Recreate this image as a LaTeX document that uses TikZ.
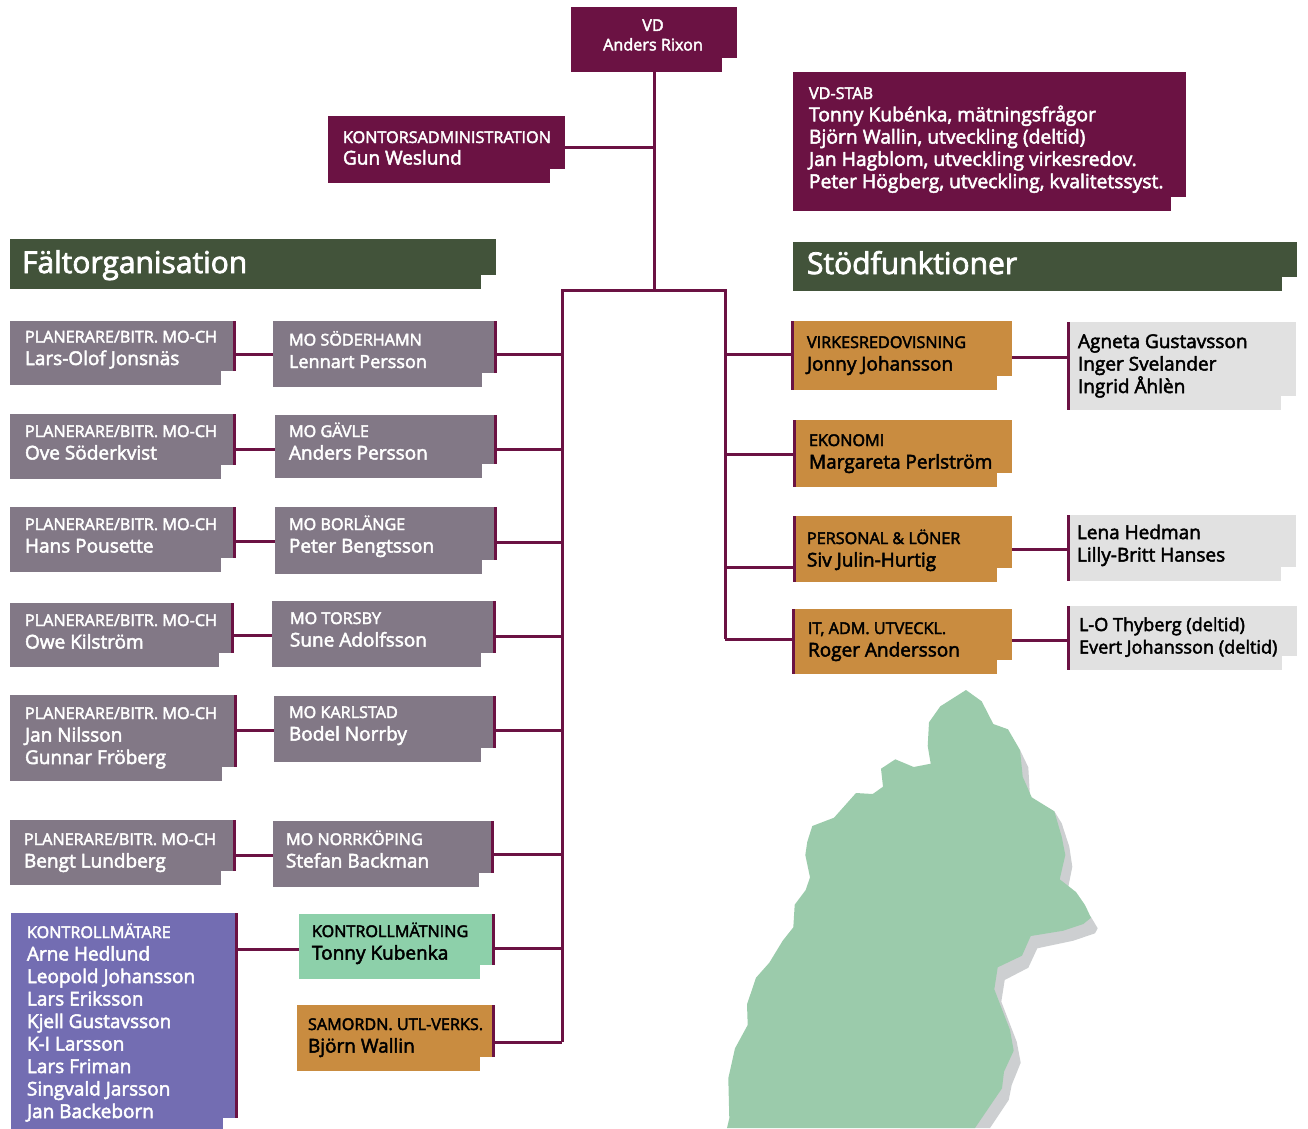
\documentclass[tikz,border=0pt]{standalone}
\usepackage{fontspec}
\setmainfont[FakeBold=2.6]{Open Sans}
\definecolor{plum}{HTML}{6B1243}
\definecolor{mauve}{HTML}{827886}
\definecolor{forest}{HTML}{42533A}
\definecolor{ochre}{HTML}{C98C40}
\definecolor{pale}{HTML}{E1E1E1}
\definecolor{violet}{HTML}{736DB2}
\definecolor{mint}{HTML}{8DD0AA}
\definecolor{land}{HTML}{9BCBAB}
\definecolor{landshadow}{HTML}{CDCFD1}
\tikzset{
  boxbase/.style={rectangle,inner sep=0pt,outer sep=0pt,anchor=north west},
  txt/.style={inner sep=0pt,outer sep=0pt,anchor=base west,align=left},
  wire/.style={draw=plum,line width=3pt},
}
\newcommand{\capf}{\fontsize{16.2}{20}\selectfont}
\newcommand{\namef}{\fontsize{19}{22}\selectfont}
\newcommand{\stabf}{\fontsize{19.3}{22}\selectfont}
\newcommand{\smallf}{\fontsize{18.1}{22}\selectfont}
\newcommand{\headf}{\fontsize{30}{34}\selectfont}
\newcommand{\Ln}[1]{\hbox{#1}}
% name x1 y1 x2 y2 fill barside(r/l/n) 
\newcommand{\orgbox}[7]{%
  \pgfmathsetmacro{\bw}{#4-#2}\pgfmathsetmacro{\bh}{#5-#3}%
  \node[boxbase,fill=#6,minimum width=\bw pt,minimum height=\bh pt] (#1) at (#2,#3) {};%
  \fill[white] (#4-15,#5-14.5) rectangle (#4+0.5,#5+0.5);%
  \if#7r\fill[plum] (#4-3,#3) rectangle (#4,#5-14.5);\fi%
  \if#7l\fill[plum] (#2,#3) rectangle (#2+3,#5);\fi%
}
\newcommand{\hwire}[3]{\draw[wire] (#1 |- 0,#3) -- (#2 |- 0,#3);}
\newcommand{\tblock}[5]{\node[txt,text=#5] (#1) at (#2,#3) {\vtop{\baselineskip=22.5pt #4}};}
\begin{document}
\begin{tikzpicture}[x=1pt,y=-1pt]
\useasboundingbox (0,0) rectangle (1308,1128);
\clip (0,0) rectangle (1308,1128);
% map
\fill[landshadow] (1020,750) -- (1028.3,767.3) -- (1030,797) -- (1033,800) -- (1054.3,811.3) -- (1061.7,823.3) -- (1069.3,846.7) -- (1072.3,866.7) -- (1068.3,886.7) -- (1060,890) -- (1091,917) -- (1097.7,928.3) -- (1095,933.3) -- (1073.3,940.7) -- (1037.3,948.3) -- (1028.3,967.7) -- (1004.7,980) -- (1001.3,1001.7) -- (1016.7,1041.7) -- (1020.7,1062.7) -- (1011.7,1085) -- (1008.7,1100) -- (990,1128) -- (900,1128) -- (900,800) -- cycle;
\fill[land] (966,690) -- (981.7,701.3) -- (993.3,724) -- (1008,729.3) -- (1020,750) -- (1022.7,776.7) -- (1031.7,797.3) -- (1054.3,811.3) -- (1061.7,836.7) -- (1065.3,855) -- (1059.7,879.3) -- (1076,892) -- (1085,905) -- (1091,917.7) -- (1083.3,924) -- (1063.3,930.7) -- (1030.7,936) -- (1022,955.7) -- (997.7,967.3) -- (994.3,989.3) -- (1010,1030) -- (1013.7,1050.7) -- (1004,1071.7) -- (1002,1088.3) -- (975,1128) -- (727,1128) -- (729.3,1118.3) -- (728.3,1078.3) -- (735,1048.3) -- (747.7,1025) -- (747,1004.3) -- (756,977.7) -- (769.3,962.7) -- (782.7,940.7) -- (793.3,927.3) -- (794.7,904.7) -- (805.7,890) -- (810,877.3) -- (805.3,855) -- (807.3,841.7) -- (812.3,826) -- (834,817.7) -- (856,793) -- (872.7,794) -- (883,786.7) -- (881,768.7) -- (895.3,759.3) -- (913.7,767) -- (930.7,763.7) -- (927.7,746) -- (929,722.3) -- (940.3,706.3) -- cycle;
% boxes
\orgbox{vd}{571}{7}{737}{72}{plum}{n}
\orgbox{kont}{328}{116}{565}{183}{plum}{n}
\orgbox{stab}{793}{72}{1186}{211}{plum}{n}
\orgbox{falt}{10}{239}{496}{289}{forest}{n}
\orgbox{stod}{793}{242}{1297}{291}{forest}{n}
\orgbox{p1}{10}{321}{236}{385}{mauve}{r}
\orgbox{m1}{273}{321}{497}{387}{mauve}{r}
\orgbox{p2}{10}{414}{236}{479}{mauve}{r}
\orgbox{m2}{275}{415}{497}{478}{mauve}{r}
\orgbox{p3}{10}{507}{236}{572}{mauve}{r}
\orgbox{m3}{275}{507}{497}{574}{mauve}{r}
\orgbox{p4}{10}{603}{234}{667}{mauve}{r}
\orgbox{m4}{272}{601}{496}{667}{mauve}{r}
\orgbox{p5}{10}{695}{237}{781}{mauve}{r}
\orgbox{m5}{274}{696}{496}{762}{mauve}{r}
\orgbox{p6}{10}{820}{236}{885}{mauve}{r}
\orgbox{m6}{273}{821}{494}{887}{mauve}{r}
\orgbox{kmt}{11}{913}{238}{1132}{violet}{n}
\fill[plum] (235,913) rectangle (238,1118);
\fill[white] (224,1118) rectangle (238.5,1132);
\orgbox{km}{299}{914}{495}{979}{mint}{r}
\orgbox{sam}{297}{1005}{495}{1071}{ochre}{r}
\orgbox{vir}{791}{321}{1012}{390}{ochre}{l}
\orgbox{eko}{793}{420}{1012}{487}{ochre}{l}
\orgbox{per}{793}{516}{1012}{582}{ochre}{l}
\orgbox{it}{792}{609}{1012}{674}{ochre}{l}
\orgbox{g1}{1067}{322}{1296}{410}{pale}{l}
\orgbox{g2}{1067}{515}{1296}{581}{pale}{l}
\orgbox{g3}{1067}{606}{1297}{670}{pale}{l}
% trunk
\coordinate (top) at (654.5,72);
\coordinate (junc) at (654.5,290);
\coordinate (lt) at (562,290);
\coordinate (lb) at (562,1042);
\coordinate (rt) at (725,290);
\coordinate (rb) at (725,639);
\draw[wire] (vd.south -| top) -- (junc);
\draw[wire,line join=miter] (lb) -- (lt) -- (rt) -- (rb);
\hwire{kont.east}{top}{147}
\hwire{p1.east}{m1.west}{354}
\hwire{p2.east}{m2.west}{449}
\hwire{p3.east}{m3.west}{541}
\hwire{p4.east}{m4.west}{635}
\hwire{p5.east}{m5.west}{730}
\hwire{p6.east}{m6.west}{855}
\hwire{kmt.east}{km.west}{949}
\hwire{m1.east}{lt}{354}
\hwire{m2.east}{lt}{449}
\hwire{m3.east}{lt}{542}
\hwire{m4.east}{lt}{636}
\hwire{m5.east}{lt}{730}
\hwire{m6.east}{lt}{854}
\hwire{km.east}{lt}{948}
\hwire{sam.east}{lt}{1042}
\hwire{rt}{vir.west}{354}
\hwire{rt}{eko.west}{454}
\hwire{rt}{per.west}{567}
\hwire{rt}{it.west}{639}
\hwire{vir.east}{g1.west}{357}
\hwire{per.east}{g2.west}{549}
\hwire{it.east}{g3.west}{640}
% texts
\node[inner sep=0pt,text=white,align=center,font=\capf] (tvd) at (653,35) {VD\\[-0.5pt]Anders Rixon};
\node[txt,text=white] (tkont) at (343,143) {\vtop{\baselineskip=21.5pt\Ln{\capf KONTORSADMINISTRATION}\Ln{\namef Gun Weslund}}};
\node[txt,text=white] (tstab) at (809,99) {\vtop{\baselineskip=22.3pt\Ln{\capf VD-STAB}\Ln{\stabf Tonny Kubénka, mätningsfrågor}\Ln{\stabf Björn Wallin, utveckling (deltid)}\Ln{\stabf Jan Hagblom, utveckling virkesredov.}\Ln{\stabf Peter Högberg, utveckling, kvalitetssyst.}}};
\node[txt,text=white,font=\headf] (tfalt) at (22,273) {Fältorganisation};
\node[txt,text=white,font=\headf] (tstod) at (807,274) {Stödfunktioner};
\tblock{tp1}{25}{342.5}{\Ln{\capf PLANERARE/BITR. MO-CH}\Ln{\namef Lars-Olof Jonsnäs}}{white}
\tblock{tm1}{289}{345.5}{\Ln{\capf MO SÖDERHAMN}\Ln{\smallf Lennart Persson}}{white}
\tblock{tp2}{25}{437}{\Ln{\capf PLANERARE/BITR. MO-CH}\Ln{\namef Ove Söderkvist}}{white}
\tblock{tm2}{289}{437}{\Ln{\capf MO GÄVLE}\Ln{\namef Anders Persson}}{white}
\tblock{tp3}{25}{530}{\Ln{\capf PLANERARE/BITR. MO-CH}\Ln{\namef Hans Pousette}}{white}
\tblock{tm3}{289}{530}{\Ln{\capf MO BORLÄNGE}\Ln{\namef Peter Bengtsson}}{white}
\tblock{tp4}{25}{626}{\Ln{\capf PLANERARE/BITR. MO-CH}\Ln{\namef Owe Kilström}}{white}
\tblock{tm4}{290}{624}{\Ln{\capf MO TORSBY}\Ln{\namef Sune Adolfsson}}{white}
\tblock{tp5}{25}{719}{\Ln{\capf PLANERARE/BITR. MO-CH}\Ln{\namef Jan Nilsson}\Ln{\namef Gunnar Fröberg}}{white}
\tblock{tm5}{289}{718}{\Ln{\capf MO KARLSTAD}\Ln{\namef Bodel Norrby}}{white}
\tblock{tp6}{24}{845}{\Ln{\capf PLANERARE/BITR. MO-CH}\Ln{\namef Bengt Lundberg}}{white}
\tblock{tm6}{286}{845}{\Ln{\capf MO NORRKÖPING}\Ln{\namef Stefan Backman}}{white}
\tblock{tkmt}{27}{938}{\Ln{\capf KONTROLLMÄTARE}\Ln{\namef Arne Hedlund}\Ln{\namef Leopold Johansson}\Ln{\namef Lars Eriksson}\Ln{\namef Kjell Gustavsson}\Ln{\namef K-I Larsson}\Ln{\namef Lars Friman}\Ln{\namef Singvald Jarsson}\Ln{\namef Jan Backeborn}}{white}
\tblock{tkm}{312}{937}{\Ln{\capf KONTROLLMÄTNING}\Ln{\namef Tonny Kubenka}}{black}
\tblock{tsam}{308}{1030}{\Ln{\capf SAMORDN. UTL-VERKS.}\Ln{\namef Björn Wallin}}{black}
\tblock{tvir}{807}{348}{\Ln{\capf VIRKESREDOVISNING}\Ln{\namef Jonny Johansson}}{black}
\tblock{teko}{809}{446}{\Ln{\capf EKONOMI}\Ln{\namef Margareta Perlström}}{black}
\tblock{tper}{807}{544}{\Ln{\capf PERSONAL \& LÖNER}\Ln{\namef Siv Julin-Hurtig}}{black}
\tblock{tit}{808}{634}{\Ln{\capf IT, ADM. UTVECKL.}\Ln{\namef Roger Andersson}}{black}
\tblock{tg1}{1078}{348}{\Ln{\namef Agneta Gustavsson}\Ln{\namef Inger Svelander}\Ln{\namef Ingrid Åhlèn}}{black}
\tblock{tg2}{1077}{539}{\Ln{\namef Lena Hedman}\Ln{\namef Lilly-Britt Hanses}}{black}
\tblock{tg3}{1079}{631}{\Ln{\smallf L-O Thyberg (deltid)}\Ln{\smallf Evert Johansson (deltid)}}{black}
\end{tikzpicture}
\end{document}
